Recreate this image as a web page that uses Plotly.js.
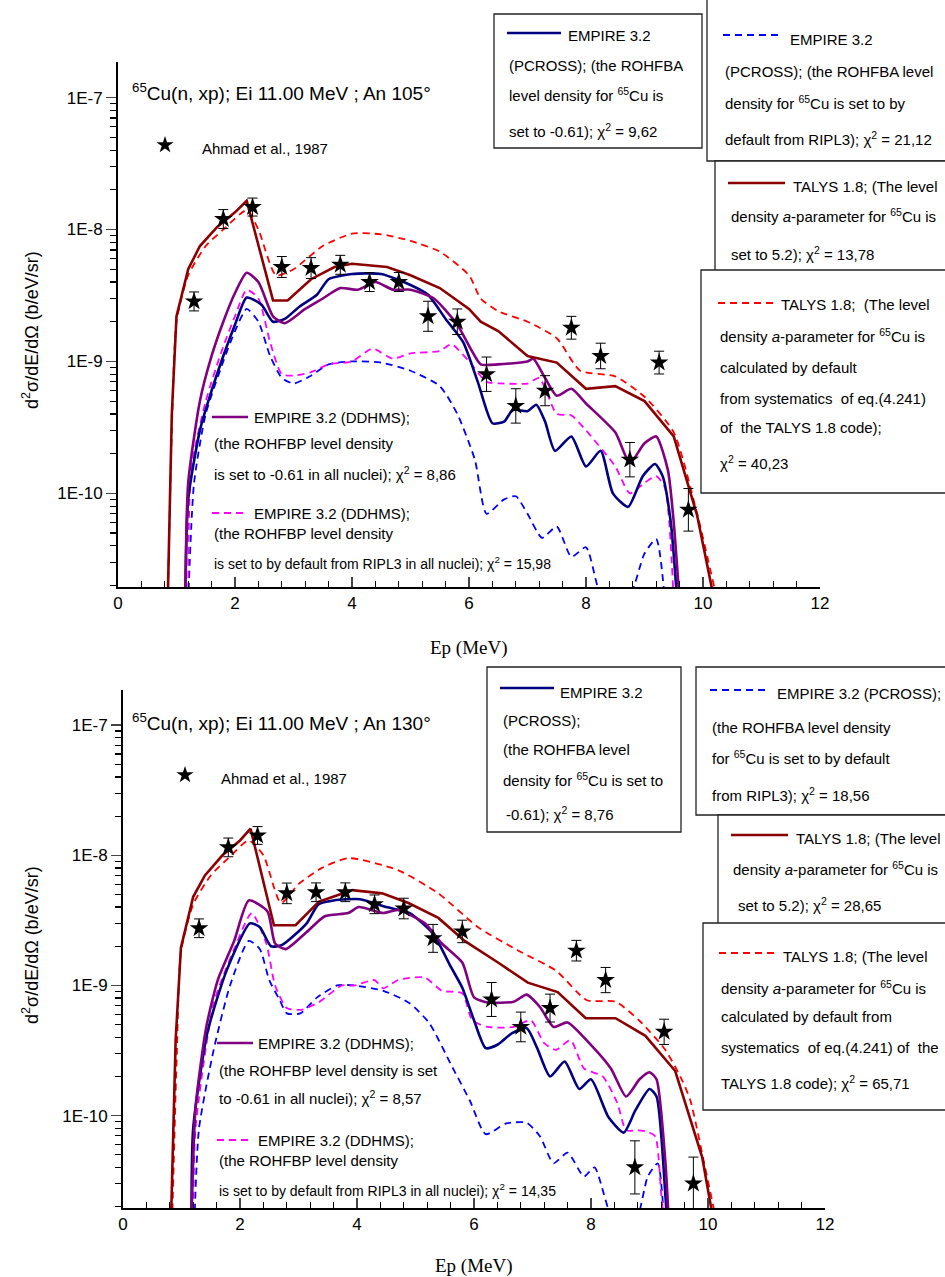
<!DOCTYPE html>
<html><head><meta charset="utf-8">
<script src="https://cdn.plot.ly/plotly-3.0.1.min.js"></script>
<style>body{margin:0;background:#fff}#g{width:945px;height:1277px}</style>
</head><body><div id="g"></div>
<script>
// ---------- data: top panel (An 105°) ----------
const expX1 = [1.3,1.8,2.3,2.8,3.3,3.8,4.3,4.8,5.3,5.8,6.3,6.8,7.3,7.75,8.25,8.75,9.25,9.75];
const expY1 = [2.85e-9,1.2e-8,1.48e-8,5.2e-9,5.1e-9,5.4e-9,4.0e-9,4.0e-9,2.2e-9,2.0e-9,8e-10,4.6e-10,6.0e-10,1.8e-9,1.1e-9,1.8e-10,9.8e-10,7.5e-11];
const expErr1 = [0.18,0.18,0.17,0.2,0.2,0.18,0.18,0.18,0.3,0.25,0.35,0.35,0.3,0.22,0.25,0.35,0.22,0.45];

const talysX1 = [0.85,0.92,1.0,1.2,1.4,1.7,2.0,2.2,2.65,2.9,3.3,3.7,4.0,4.6,5.0,5.5,6.0,6.2,6.5,7.0,7.5,8.0,8.5,9.0,9.5,9.9,10.2];
const talysY1 = [1.5e-11,4e-10,2.2e-9,5e-9,7.5e-9,1.05e-8,1.35e-8,1.65e-8,2.9e-9,2.9e-9,4.2e-9,5.2e-9,5.5e-9,5.2e-9,4.5e-9,3.6e-9,2.5e-9,2.0e-9,1.7e-9,1.1e-9,9.8e-10,6.2e-10,6.5e-10,5e-10,2.7e-10,6.8e-11,1.5e-11];
const talysDX1 = [0.85,0.92,1.0,1.2,1.5,1.8,2.2,2.4,2.7,3.0,3.5,4.0,4.5,5.0,5.5,6.0,6.2,6.5,7.0,7.5,7.9,8.5,9.0,9.5,9.9,10.25];
const talysDY1 = [1.5e-11,3e-10,2e-9,4.5e-9,7.5e-9,1e-8,1.4e-8,1.0e-8,4.5e-9,5e-9,7.5e-9,9.3e-9,9.2e-9,8.2e-9,6.8e-9,4.5e-9,3e-9,2.4e-9,2.0e-9,1.5e-9,8.5e-10,7.7e-10,5.4e-10,2.9e-10,7e-11,1.5e-11];
const pcrossX1 = [1.15,1.2,1.4,1.6,1.8,2.0,2.2,2.45,2.65,2.85,3.1,3.4,3.6,4.0,4.5,5.0,5.3,5.6,5.9,6.15,6.4,6.6,6.75,7.0,7.15,7.3,7.47,7.75,8.0,8.25,8.46,8.72,8.97,9.18,9.31,9.45,9.56];
const pcrossY1 = [1.5e-11,9e-11,3e-10,6e-10,1.1e-9,1.9e-9,3.05e-9,2.7e-9,2.0e-9,2.1e-9,2.6e-9,3.2e-9,4.2e-9,4.6e-9,4.6e-9,3.8e-9,3.2e-9,2.1e-9,1.4e-9,7e-10,3.4e-10,3.5e-10,4.3e-10,4.2e-10,4.7e-10,3.5e-10,2.1e-10,2.7e-10,1.6e-10,2.1e-10,1.0e-10,7.9e-11,1.35e-10,1.67e-10,1.35e-10,6e-11,1.5e-11];
const ddhmsX1 = [1.15,1.2,1.4,1.6,1.8,2.0,2.2,2.4,2.65,2.85,3.2,3.5,3.8,4.1,4.4,4.7,5.0,5.4,5.8,6.05,6.2,6.5,7.0,7.1,7.3,7.5,7.75,8.0,8.5,8.75,9.0,9.2,9.4,9.5,9.6];
const ddhmsY1 = [1.5e-11,1.2e-10,5e-10,1.1e-9,2.0e-9,3.3e-9,4.7e-9,4.0e-9,2.2e-9,1.95e-9,2.5e-9,3.0e-9,3.6e-9,3.5e-9,4.0e-9,3.5e-9,3.5e-9,3.0e-9,1.9e-9,1.2e-9,9.5e-10,9.5e-10,1.0e-9,1.05e-9,7.5e-10,5.5e-10,6.2e-10,4.8e-10,2.9e-10,1.7e-10,2.4e-10,2.7e-10,1.5e-10,6e-11,1.5e-11];
const pcrossDX1 = [1.2,1.3,1.5,1.8,2.0,2.2,2.4,2.6,2.8,3.0,3.3,3.6,4.0,4.5,5.0,5.5,5.8,6.1,6.3,6.6,6.8,7.0,7.25,7.5,7.75,8.0,8.3,8.7,9.0,9.2,9.35];
const pcrossDY1 = [1.5e-11,1.2e-10,4e-10,1.0e-9,1.7e-9,2.5e-9,2.0e-9,1.1e-9,7.5e-10,6.8e-10,7.8e-10,9.5e-10,1.0e-9,9.8e-10,8.5e-10,6.5e-10,4e-10,1.8e-10,7e-11,9e-11,9.5e-11,7e-11,4.6e-11,5.6e-11,3.3e-11,3.9e-11,1.5e-11,1.5e-11,3.5e-11,4.5e-11,1.5e-11];
const ddhmsDX1 = [1.2,1.25,1.5,1.8,2.0,2.2,2.4,2.6,2.8,3.0,3.3,3.6,4.0,4.35,4.7,5.0,5.5,5.7,6.0,6.3,6.6,7.0,7.2,7.5,7.75,8.0,8.5,8.75,9.0,9.2,9.35,9.5];
const ddhmsDY1 = [1.5e-11,1.5e-10,5e-10,1.3e-9,2.2e-9,3.5e-9,3.0e-9,1.4e-9,8e-10,7.8e-10,8.3e-10,9.5e-10,1.0e-9,1.25e-9,1.05e-9,1.15e-9,1.2e-9,1.35e-9,1.0e-9,7e-10,6.8e-10,6.8e-10,7.5e-10,4e-10,3.9e-10,3.0e-10,1.6e-10,1.0e-10,1.2e-10,1.35e-10,1.1e-10,1.5e-11];

// ---------- data: bottom panel (An 130°) ----------
const expX2 = [1.3,1.8,2.3,2.8,3.3,3.8,4.3,4.8,5.3,5.8,6.3,6.8,7.3,7.75,8.25,8.75,9.25,9.75];
const expY2 = [2.75e-9,1.15e-8,1.42e-8,5.1e-9,5.2e-9,5.2e-9,4.2e-9,3.9e-9,2.3e-9,2.6e-9,7.8e-10,4.8e-10,6.7e-10,1.85e-9,1.1e-9,4e-11,4.4e-10,3.0e-11];
const expErr2 = [0.18,0.18,0.17,0.2,0.18,0.18,0.18,0.2,0.28,0.22,0.35,0.3,0.28,0.2,0.25,0.6,0.25,0.6];

const talysX2 = [0.82,0.9,0.99,1.2,1.4,1.7,2.0,2.18,2.58,2.95,3.35,3.92,4.43,4.88,5.39,5.84,6.41,6.92,7.43,7.91,8.42,8.93,9.44,9.9,10.1];
const talysY2 = [1.5e-11,3.8e-10,1.95e-9,4.8e-9,7e-9,1e-8,1.3e-8,1.6e-8,2.9e-9,2.9e-9,4.4e-9,5.4e-9,5.1e-9,4.3e-9,3.3e-9,2.2e-9,1.5e-9,1.05e-9,8.9e-10,5.6e-10,5.6e-10,4.1e-10,2.2e-10,4.8e-11,1.5e-11];
const talysDX2 = [0.84,0.92,0.99,1.2,1.5,1.8,2.15,2.4,2.7,3.0,3.4,3.86,4.7,5.39,6.07,6.76,7.4,7.93,8.42,8.82,9.27,9.55,9.7,9.95,10.15];
const talysDY2 = [1.5e-11,3e-10,1.8e-9,4.2e-9,7e-9,9.5e-9,1.3e-8,1.0e-8,4.3e-9,6.0e-9,8e-9,9.5e-9,7.7e-9,5.1e-9,2.8e-9,1.85e-9,1.3e-9,7.7e-10,7.5e-10,5.4e-10,3.2e-10,1.9e-10,1.3e-10,4e-11,1.5e-11];
const pcrossX2 = [1.17,1.2,1.44,1.77,2.17,2.34,2.53,2.72,3.14,3.34,3.6,4.05,4.5,4.9,5.3,5.6,5.8,6.0,6.2,6.4,6.65,6.9,7.08,7.3,7.55,7.8,8.0,8.3,8.56,8.76,9.0,9.12,9.27,9.3];
const pcrossY2 = [1.5e-11,8e-11,4.3e-10,1.3e-9,3.0e-9,2.8e-9,2.0e-9,2.05e-9,3.0e-9,4.2e-9,4.5e-9,4.6e-9,4.0e-9,3.6e-9,2.5e-9,1.4e-9,9.6e-10,5.4e-10,3.3e-10,3.5e-10,4.3e-10,4.7e-10,3.3e-10,2.0e-10,2.6e-10,1.6e-10,1.9e-10,9.7e-11,7.4e-11,1.1e-10,1.6e-10,1.4e-10,2.5e-11,1.5e-11];
const ddhmsX2 = [1.17,1.24,1.42,1.62,1.9,2.15,2.47,2.6,2.78,3.13,3.45,3.85,4.03,4.45,4.7,5.16,5.45,5.8,6.0,6.23,6.68,6.9,7.13,7.36,7.6,7.97,8.34,8.6,8.83,9.0,9.12,9.27,9.33];
const ddhmsY2 = [1.5e-11,1.15e-10,4.7e-10,1.1e-9,2.2e-9,4.5e-9,3.7e-9,2.1e-9,1.9e-9,2.55e-9,3.4e-9,3.6e-9,4.0e-9,3.6e-9,3.8e-9,3.0e-9,2.1e-9,1.5e-9,8.1e-10,7.4e-10,7.5e-10,8.5e-10,6.8e-10,4.8e-10,5.2e-10,3.6e-10,2.3e-10,1.4e-10,1.9e-10,2.15e-10,1.9e-10,4.5e-11,1.5e-11];
const pcrossDX2 = [1.22,1.3,1.55,1.83,2.15,2.34,2.5,2.68,2.8,3.03,3.32,3.66,3.95,4.45,4.9,5.24,5.6,5.93,6.2,6.55,6.9,7.13,7.36,7.6,7.88,8.06,8.4,8.75,8.97,9.14,9.25];
const pcrossDY2 = [1.5e-11,8e-11,3.2e-10,1.0e-9,2.2e-9,1.9e-9,1.1e-9,7.7e-10,6.1e-10,6.1e-10,8.1e-10,1.0e-9,1.0e-9,9.1e-10,7.3e-10,5.1e-10,2.5e-10,1.3e-10,7.2e-11,8.7e-11,8.8e-11,6.9e-11,4.3e-11,5.2e-11,3.4e-11,4e-11,1.5e-11,1.5e-11,3.4e-11,4.3e-11,1.5e-11];
const ddhmsDX2 = [1.2,1.24,1.55,1.9,2.2,2.45,2.6,2.8,3.05,3.34,3.74,3.96,4.3,4.45,4.7,5.16,5.45,5.8,5.97,6.23,6.68,6.97,7.2,7.4,7.65,7.88,8.2,8.45,8.6,8.8,8.97,9.1,9.2,9.25];
const ddhmsDY2 = [1.5e-11,8e-11,7.3e-10,1.9e-9,3.6e-9,2.1e-9,1.0e-9,6.7e-10,6.5e-10,7.4e-10,1.0e-9,1.0e-9,1.1e-9,9.5e-10,1.1e-9,1.15e-9,9.1e-10,8.7e-10,5.4e-10,4.8e-10,4.8e-10,5.4e-10,3.6e-10,3.2e-10,3.8e-10,2.3e-10,2.0e-10,1.25e-10,7.7e-11,7.7e-11,7.5e-11,6.9e-11,2.5e-11,1.5e-11];

// ---------- styles ----------
const C = {talys:'#8B0000', talysD:'#FF0000', pcross:'#000080', pcrossD:'#0000FF', ddhms:'#800080', ddhmsD:'#FF00FF'};
function ln(x,y,col,dash,ax,w,smooth){return {x:x,y:y,xaxis:ax[0],yaxis:ax[1],mode:'lines',type:'scatter',
  line:{color:col,width:w||2.6,dash:dash?'7px,5px':'solid',shape:smooth?'spline':'linear',smoothing:0.6},hoverinfo:'skip'};}
function stars(x,y,e,ax){return {x:x,y:y,xaxis:ax[0],yaxis:ax[1],mode:'markers',type:'scatter',
  marker:{symbol:'star',size:14,color:'#000'},
  error_y:{type:'data',symmetric:false,array:y.map((v,i)=>v*e[i]),arrayminus:y.map((v,i)=>v*e[i]/(1+e[i])),color:'#000',thickness:1,width:5}};}
const A1=['x','y'], A2=['x2','y2'];
const traces=[
 ln(pcrossDX1,pcrossDY1,C.pcrossD,true,A1,1.8,true), ln(ddhmsDX1,ddhmsDY1,C.ddhmsD,true,A1,1.8,true),
 ln(talysDX1,talysDY1,C.talysD,true,A1,1.8,true), ln(pcrossX1,pcrossY1,C.pcross,false,A1,2.6,true),
 ln(ddhmsX1,ddhmsY1,C.ddhms,false,A1,2.6,true), ln(talysX1,talysY1,C.talys,false,A1), stars(expX1,expY1,expErr1,A1),
 ln(pcrossDX2,pcrossDY2,C.pcrossD,true,A2,1.8,true), ln(ddhmsDX2,ddhmsDY2,C.ddhmsD,true,A2,1.8,true),
 ln(talysDX2,talysDY2,C.talysD,true,A2,1.8,true), ln(pcrossX2,pcrossY2,C.pcross,false,A2,2.6,true),
 ln(ddhmsX2,ddhmsY2,C.ddhms,false,A2,2.6,true), ln(talysX2,talysY2,C.talys,false,A2), stars(expX2,expY2,expErr2,A2)
];

const W=945,H=1277;
const px=x=>x/W, py=y=>1-y/H;
const FONT='Liberation Sans, Arial, sans-serif';
const FS=15;
const ann=[], shp=[];
function T(x,y,t,s,opt){ann.push(Object.assign({xref:'paper',yref:'paper',x:px(x),y:py(y),text:t,showarrow:false,
  xanchor:'left',yanchor:'middle',align:'left',font:{family:FONT,size:s||FS,color:'#000'}},opt||{}));}
function box(x0,y0,x1,y1){shp.push({type:'rect',xref:'paper',yref:'paper',x0:px(x0),x1:px(x1),y0:py(y1),y1:py(y0),line:{color:'#222',width:1.3},fillcolor:'#fff',layer:'above'});}
function seg(x0,x1,y,col,dash,w){shp.push({type:'line',xref:'paper',yref:'paper',x0:px(x0),x1:px(x1),y0:py(y),y1:py(y),line:{color:col,width:w||2.6,dash:dash?'7px,5px':'solid'},layer:'above'});}
const chi=(v)=>'χ<sup>2</sup> = '+v;

// top panel texts
T(130,92,'<sup>65</sup>Cu(n, xp); Ei 11.00 MeV ; An 105°',19);
T(200,148,'Ahmad et al., 1987');
box(494,14,702,148); seg(507,561,33,C.pcross,false);
T(566,36,'EMPIRE 3.2'); T(507,65,'(PCROSS); (the ROHFBA');
T(507,95,'level density for <sup>65</sup>Cu is'); T(507,130,'set to -0.61); '+chi('9,62'));
box(707,-2,950,161); seg(723,782,35,C.pcrossD,true,1.8);
T(788,39,'EMPIRE 3.2'); T(723,72,'(PCROSS); (the ROHFBA level');
T(723,103,'density for <sup>65</sup>Cu is set to by'); T(723,139,'default from RIPL3); '+chi('21,12'));
box(715,161,950,273); seg(728,785,183,C.talys,false);
T(791,186,'TALYS 1.8; (The level'); T(729,215,'density <i>a</i>-parameter for <sup>65</sup>Cu is');
T(729,253,'set to 5.2); '+chi('13,78'));
box(701,270,950,493); seg(718,773,303,C.talysD,true,1.8);
T(779,305,'TALYS 1.8;  (The level'); T(718,335,'density <i>a</i>-parameter for <sup>65</sup>Cu is');
T(718,367,'calculated by default'); T(718,398,'from systematics  of eq.(4.241)');
T(718,428,'of  the TALYS 1.8 code);'); T(718,463,chi('40,23'));
seg(212,248,417,C.ddhms,false); T(252,417,'EMPIRE 3.2 (DDHMS);');
T(212,443,'(the ROHFBP level density'); T(212,473,'is set to -0.61 in all nuclei); '+chi('8,86'));
seg(212,248,513,C.ddhmsD,true,1.8); T(252,513,'EMPIRE 3.2 (DDHMS);');
T(212,533,'(the ROHFBP level density'); T(212,563,'is set to by default from RIPL3 in all nuclei); '+chi('15,98'),14);

// bottom panel texts
T(130,722,'<sup>65</sup>Cu(n, xp); Ei 11.00 MeV ; An 130°',19);
T(219,778,'Ahmad et al., 1987');
box(487,667,681,832); seg(500,554,688,C.pcross,false);
T(558,692,'EMPIRE 3.2'); T(501,720,'(PCROSS);'); T(501,749,'(the ROHFBA level');
T(501,779,'density for <sup>65</sup>Cu is set to'); T(504,813,'-0.61); '+chi('8,76'));
box(696,667,950,815); seg(710,768,690,C.pcrossD,true,1.8);
T(775,693,'EMPIRE 3.2 (PCROSS);'); T(710,727,'(the ROHFBA level density');
T(710,757,'for <sup>65</sup>Cu is set to by default'); T(710,794,'from RIPL3); '+chi('18,56'));
box(718,815,950,925); seg(731,788,835,C.talys,false);
T(794,839,'TALYS 1.8; (The level'); T(731,868,'density <i>a</i>-parameter for <sup>65</sup>Cu is');
T(736,904,'set to 5.2); '+chi('28,65'));
box(703,923,950,1110); seg(719,775,953,C.talysD,true,1.8);
T(781,956,'TALYS 1.8; (The level'); T(719,987,'density <i>a</i>-parameter for <sup>65</sup>Cu is');
T(719,1017,'calculated by default from'); T(719,1047,'systematics  of eq.(4.241) of  the');
T(719,1082,'TALYS 1.8 code); '+chi('65,71'));
seg(217,253,1043,C.ddhms,false); T(256,1043,'EMPIRE 3.2 (DDHMS);');
T(217,1070,'(the ROHFBP level density is set'); T(217,1097,'to -0.61 in all nuclei); '+chi('8,57'));
seg(217,253,1140,C.ddhmsD,true,1.8); T(256,1140,'EMPIRE 3.2 (DDHMS);');
T(217,1160,'(the ROHFBP level density'); T(217,1190,'is set to by default from RIPL3 in all nuclei); '+chi('14,35'),14);

// axis titles
const ytit='d<sup>2</sup>σ/dE/dΩ (b/eV/sr)';
T(30,330,ytit,18,{textangle:-90,xanchor:'center',yanchor:'middle'});
T(30,945,ytit,18,{textangle:-90,xanchor:'center',yanchor:'middle'});
T(469,648,'Ep (MeV)',18,{xanchor:'center',font:{family:'Liberation Serif, Times New Roman, serif',size:19,color:'#000'}});
T(474,1266,'Ep (MeV)',18,{xanchor:'center',font:{family:'Liberation Serif, Times New Roman, serif',size:19,color:'#000'}});

const yTickV=[1e-10,1e-9,1e-8,1e-7], yTickT=['1E-10','1E-9','1E-8','1E-7'];
function xa(dom,anc){return {domain:dom,anchor:anc,range:[0,12],tickvals:[0,2,4,6,8,10,12],ticks:'inside',ticklen:10,tickwidth:1.5,
  showline:true,linewidth:2,linecolor:'#000',showgrid:false,zeroline:false,tickfont:{family:FONT,size:17,color:'#000'},
  minor:{dtick:0.4,ticks:'inside',ticklen:6,tickwidth:1.2,tickcolor:'#000',showgrid:false}};}
function ya(dom,anc){return {domain:dom,anchor:anc,type:'log',range:[-10.71,-6.73],tickvals:yTickV,ticktext:yTickT,ticks:'outside',ticklen:10,tickwidth:1.5,
  showline:true,linewidth:2,linecolor:'#000',showgrid:false,zeroline:false,tickfont:{family:FONT,size:17,color:'#000'},
  minor:{ticks:'outside',ticklen:6,tickwidth:1.2,tickcolor:'#000',showgrid:false,dtick:'D1'}};}
const layout={width:W,height:H,margin:{l:0,r:0,t:0,b:0},paper_bgcolor:'#fff',plot_bgcolor:'rgba(0,0,0,0)',showlegend:false,
  xaxis:xa([118/W,820/W],'y'), yaxis:ya([1-587/H,1-62/H],'x'),
  xaxis2:xa([123/W,825/W],'y2'), yaxis2:ya([1-1208/H,1-690/H],'x2'),
  annotations:ann, shapes:shp};
traces.push({x:[px(165),px(185)],y:[py(145),py(775)],xaxis:'x3',yaxis:'y3',mode:'markers',type:'scatter',marker:{symbol:'star',size:13,color:'#000'}});
layout.xaxis3={domain:[0,1],range:[0,1],visible:false,anchor:'y3'};
layout.yaxis3={domain:[0,1],range:[0,1],visible:false,anchor:'x3'};
Plotly.newPlot('g',traces,layout,{staticPlot:true});
</script></body></html>
